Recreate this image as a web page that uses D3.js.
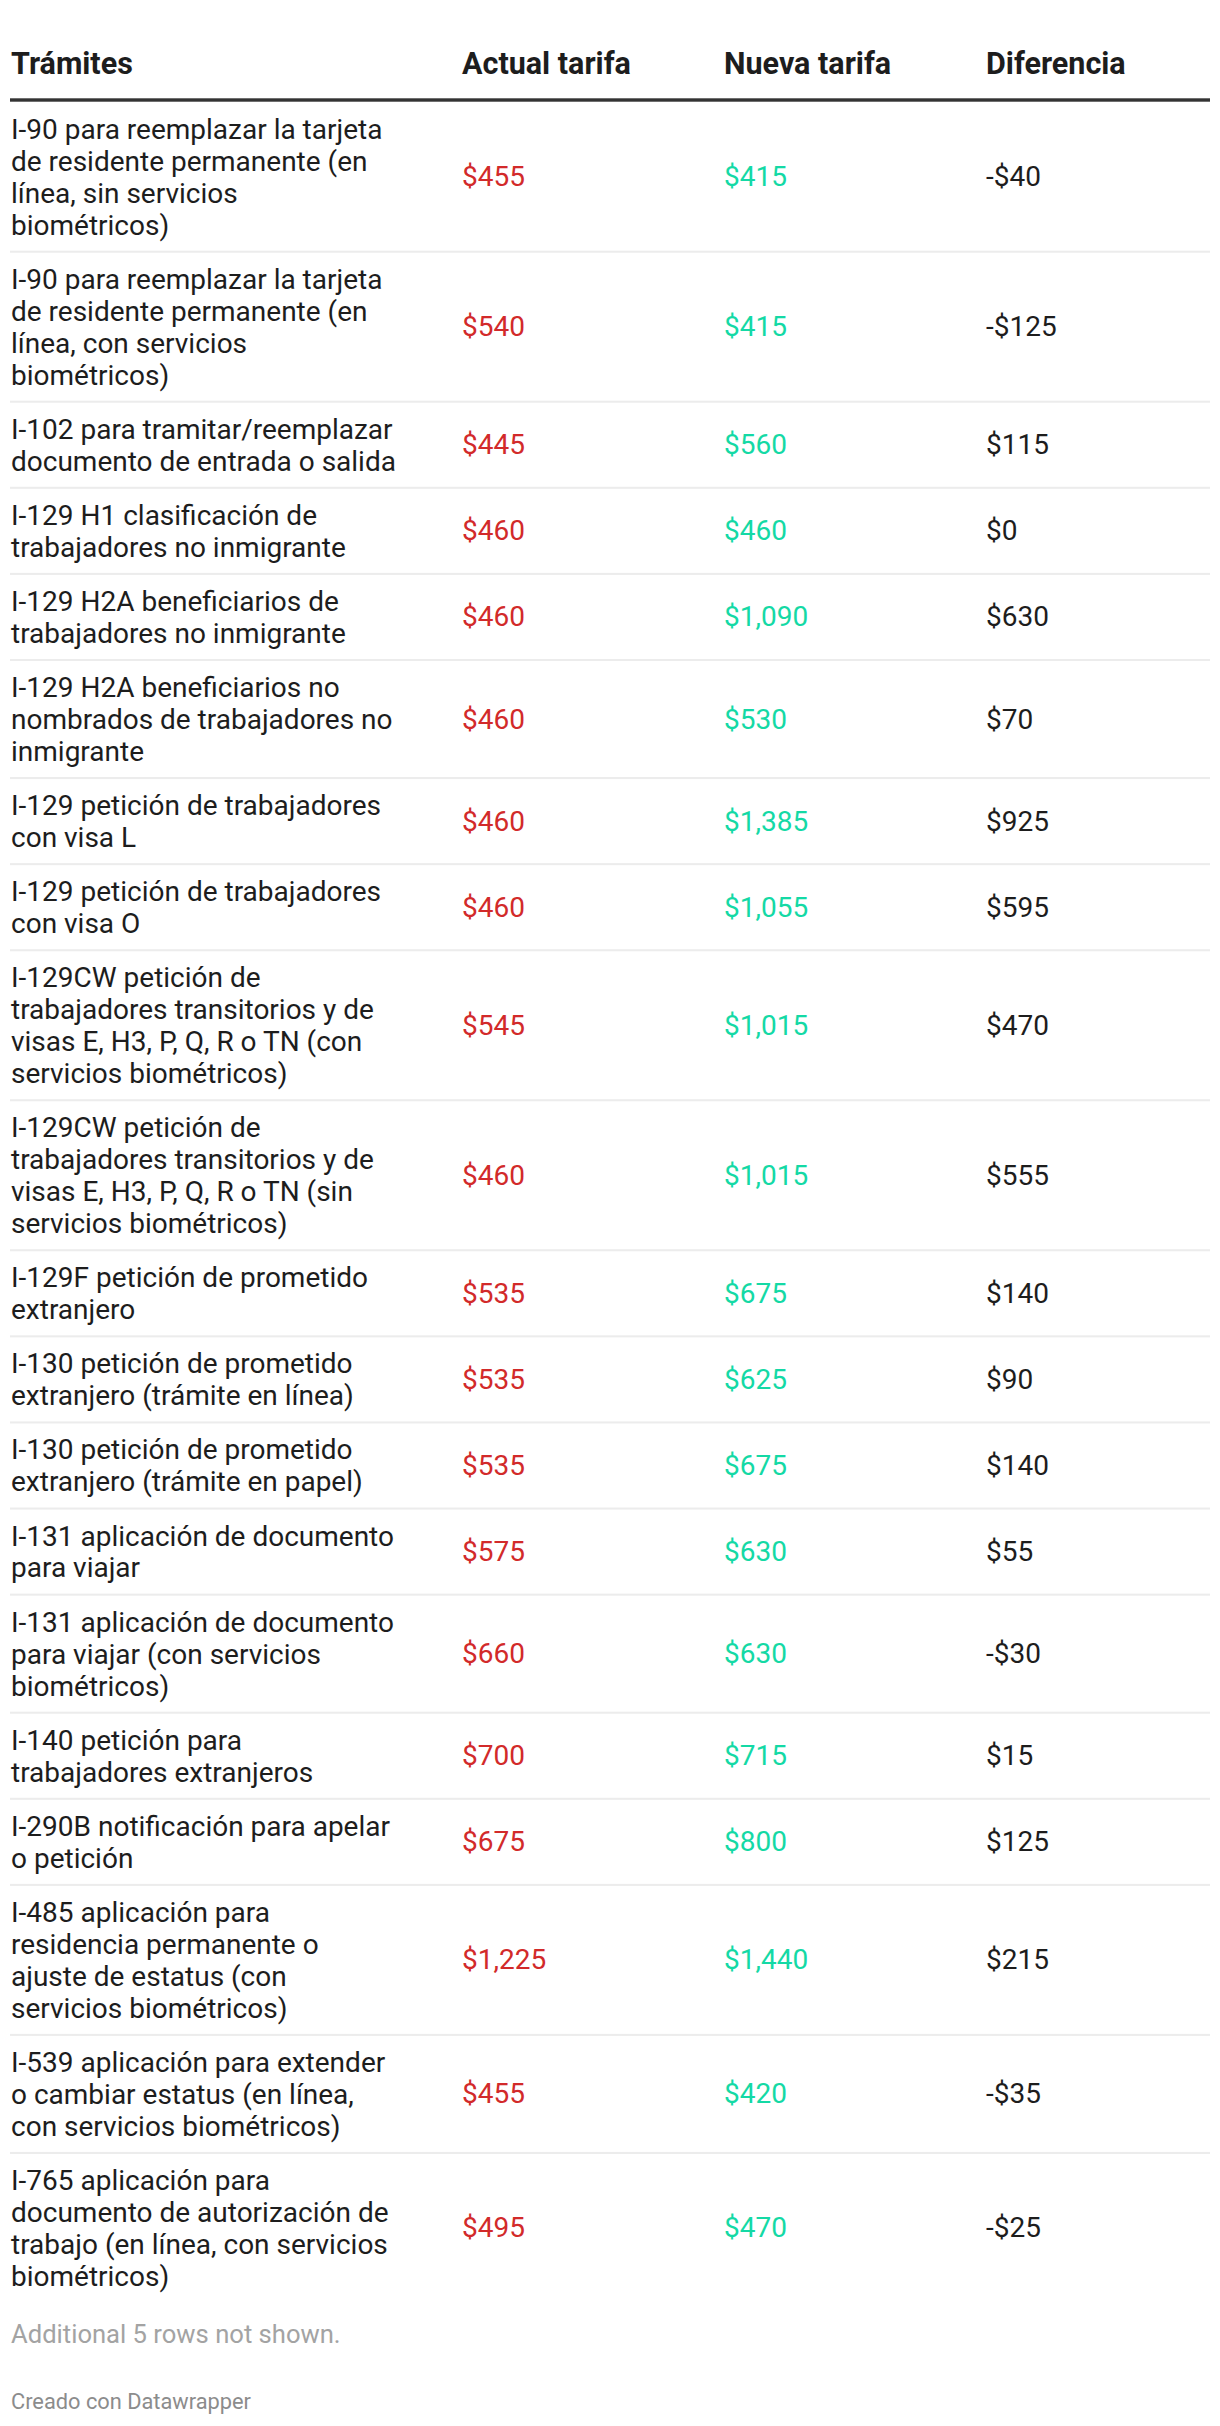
<!DOCTYPE html>
<html>
<head>
<meta charset="utf-8">
<script src="https://cdn.jsdelivr.net/npm/d3@7"></script>
<style>
  body { margin: 0; background: #fff; }
  text { font-family: Roboto, "Noto Sans", sans-serif; }
</style>
</head>
<body>
<div id="container"></div>
<script>
// column headers
const columns = ["Trámites", "Actual tarifa", "Nueva tarifa", "Diferencia"];

// row labels, "\n" = line break as in the original table
const tramites = [
  "I-90 para reemplazar la tarjeta\nde residente permanente (en\nlínea, sin servicios\nbiométricos)",
  "I-90 para reemplazar la tarjeta\nde residente permanente (en\nlínea, con servicios\nbiométricos)",
  "I-102 para tramitar/reemplazar\ndocumento de entrada o salida",
  "I-129 H1 clasificación de\ntrabajadores no inmigrante",
  "I-129 H2A beneficiarios de\ntrabajadores no inmigrante",
  "I-129 H2A beneficiarios no\nnombrados de trabajadores no\ninmigrante",
  "I-129 petición de trabajadores\ncon visa L",
  "I-129 petición de trabajadores\ncon visa O",
  "I-129CW petición de\ntrabajadores transitorios y de\nvisas E, H3, P, Q, R o TN (con\nservicios biométricos)",
  "I-129CW petición de\ntrabajadores transitorios y de\nvisas E, H3, P, Q, R o TN (sin\nservicios biométricos)",
  "I-129F petición de prometido\nextranjero",
  "I-130 petición de prometido\nextranjero (trámite en línea)",
  "I-130 petición de prometido\nextranjero (trámite en papel)",
  "I-131 aplicación de documento\npara viajar",
  "I-131 aplicación de documento\npara viajar (con servicios\nbiométricos)",
  "I-140 petición para\ntrabajadores extranjeros",
  "I-290B notificación para apelar\no petición",
  "I-485 aplicación para\nresidencia permanente o\najuste de estatus (con\nservicios biométricos)",
  "I-539 aplicación para extender\no cambiar estatus (en línea,\ncon servicios biométricos)",
  "I-765 aplicación para\ndocumento de autorización de\ntrabajo (en línea, con servicios\nbiométricos)"
];

const actual     = [455, 540, 445, 460, 460, 460, 460, 460, 545, 460, 535, 535, 535, 575, 660, 700, 675, 1225, 455, 495];
const nueva      = [415, 415, 560, 460, 1090, 530, 1385, 1055, 1015, 1015, 675, 625, 675, 630, 630, 715, 800, 1440, 420, 470];
const diferencia = [-40, -125, 115, 0, 630, 70, 925, 595, 470, 555, 140, 90, 140, 55, -30, 15, 125, 215, -35, -25];

const notes = "Additional 5 rows not shown.";
const credit = "Creado con Datawrapper";

const w = 1220, h = 2426;
const lineH = 31.95, rowPad = 22.2, tableTop = 101.7;

const fmt = d3.formatLocale({decimal: ".", thousands: ",", grouping: [3], currency: ["$", ""], minus: "-"}).format("$,");

const rows = tramites.map((t, i) => ({
  lines: t.split("\n"),
  actual: actual[i],
  nueva: nueva[i],
  diferencia: diferencia[i]
}));

// cumulative row tops
let y0 = tableTop;
rows.forEach(r => { r.top = y0; r.h = r.lines.length * lineH + rowPad; y0 += r.h; });

const xCol = d3.scaleOrdinal().domain(columns).range([11, 462, 724, 986]);

const svg = d3.select("#container").append("svg")
  .attr("width", w).attr("height", h);

// header
svg.selectAll("text.head")
  .data(columns)
  .enter().append("text")
  .attr("class", "head")
  .attr("x", d => xCol(d))
  .attr("y", 74.3)
  .attr("fill", "#1d1d1d")
  .style("font-size", "30.5px").style("font-weight", "700")
  .text(d => d);

svg.append("rect").attr("x", 10).attr("y", 98.3).attr("width", 1200).attr("height", 3.4).attr("fill", "#333");

// rows
const g = svg.selectAll("g.row")
  .data(rows)
  .enter().append("g")
  .attr("class", "row")
  .attr("transform", d => "translate(0," + d.top + ")");

// separators (not after the last row)
g.filter((d, i) => i > 0).append("rect")
  .attr("x", 10).attr("y", -1).attr("width", 1200).attr("height", 2)
  .attr("fill", "#ececec");

g.append("text")
  .attr("x", xCol(columns[0]))
  .attr("fill", "#1d1d1d")
  .style("font-size", "28px")
  .selectAll("tspan")
  .data(d => d.lines)
  .enter().append("tspan")
  .attr("x", xCol(columns[0]))
  .attr("y", (d, i) => 37 + i * lineH)
  .text(d => d);

const valueCols = [
  {key: "actual", col: columns[1], color: "#d22a2a"},
  {key: "nueva", col: columns[2], color: "#14d9a5"},
  {key: "diferencia", col: columns[3], color: "#1d1d1d"}
];

valueCols.forEach(c => {
  g.append("text")
    .attr("x", xCol(c.col))
    .attr("y", d => d.h / 2 + 9.5)
    .attr("fill", c.color)
    .style("font-size", "28px")
    .text(d => fmt(d[c.key]));
});

// notes and credit
svg.append("text").attr("x", 11).attr("y", 2343.3)
  .attr("fill", "#a3a3a3").style("font-size", "25.6px").text(notes);

svg.append("text").attr("x", 11).attr("y", 2409.3)
  .attr("fill", "#8c8c8c").style("font-size", "21.8px").text(credit);
</script>
</body>
</html>
